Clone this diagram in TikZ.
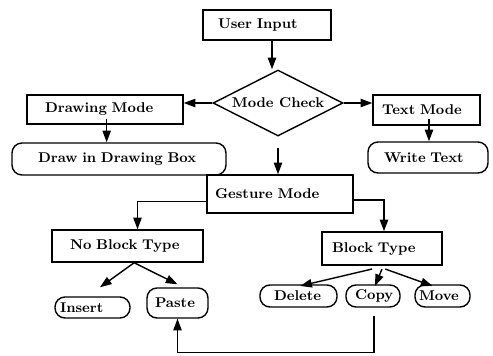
\documentclass[tikz,border=0pt]{standalone}
\usetikzlibrary{shapes.geometric,arrows.meta}
\tikzset{
    box/.style={draw, line width=0.85pt, inner sep=0pt, font=\fontsize{8.5}{10}\selectfont\bfseries},
    endbox/.style={box, rounded corners=6pt},
    check/.style={box, diamond, aspect=2},
    % text set flush left: padding, text width
    lpad/.style 2 args={align=left, inner xsep=#1, text width=#2},
    arr/.style={draw, line width=0.85pt, -{Triangle[length=7pt,width=5pt]}}
}
\begin{document}
\begin{tikzpicture}[x=0.6pt,y=-0.6pt]
        \useasboundingbox (0,0) rectangle (493,355);
        % Top: input and the mode check
        \node[box, lpad={9pt}{58.8pt}, minimum height=18pt] (input) at (267,25) {User Input};
        \node[check, minimum width=78pt, minimum height=39.6pt] (check) at (278,103) {Mode Check};
        \node[box, lpad={10.8pt}{72pt}, minimum height=17.4pt] (drawmode) at (105,109.5) {Drawing Mode};
        \node[endbox, lpad={15.6pt}{97.2pt}, minimum height=19.2pt] (drawbox) at (119,159) {Draw in Drawing Box};
        \node[box, lpad={5.4pt}{53.4pt}, minimum height=18pt] (textmode) at (426.5,110) {Text Mode};
        \node[endbox, lpad={9.6pt}{52.8pt}, minimum height=18.6pt] (writetext) at (428,157.5) {Write Text};
        % Gesture branch
        \node[box, lpad={4.8pt}{78pt}, minimum height=22.8pt] (gesture) at (280,194) {Gesture Mode};
        \node[box, lpad={10.8pt}{69pt}, minimum height=19.2pt] (noblock) at (127.5,246) {No Block Type};
        \node[box, lpad={6pt}{60pt}, minimum height=19.8pt] (block) at (382,248.5) {Block Type};
        \node[endbox, lpad={3pt}{39pt}, minimum height=12.6pt] (insert) at (92.5,307.5) {Insert};
        \node[endbox, lpad={4.8pt}{27pt}, minimum height=18pt] (paste) at (177.5,303) {Paste};
        \node[endbox, lpad={8.4pt}{29.4pt}, minimum height=13.2pt] (delete) at (298.5,296) {Delete};
        \node[endbox, lpad={5.4pt}{21.6pt}, minimum height=13.2pt] (copy) at (373,296) {Copy};
        \node[endbox, lpad={2.4pt}{28.2pt}, minimum height=13.2pt] (move) at (442.5,296) {Move};

        % Connectors
        \draw[arr] ([xshift=-3.6pt]check.north |- input.south) -- ([xshift=-3.6pt]check.north);
        \draw[arr] (check.west) -- (check.west -| drawmode.east);
        \draw[arr] (check.east) -- (check.east -| textmode.west);
        \draw[arr] ([xshift=1pt,yshift=-5.5pt]drawmode.center) -- ([xshift=1pt]drawmode.center |- drawbox.north);
        \draw[arr] ([xshift=1.5pt,yshift=-5.5pt]textmode.center) -- ([xshift=1.5pt]textmode.center |- writetext.north);
        \draw[arr, shorten <=7pt] (check.south) -- (check.south |- gesture.north);
        \draw[arr] ([yshift=-4.5pt]gesture.west) -| ([xshift=6pt]noblock.north);
        \draw[arr] ([yshift=-3.5pt]gesture.east) -| ([xshift=1.2pt]block.north);
        \draw[arr] ([xshift=4pt]noblock.south) -- ([xshift=4.5pt,yshift=5.4pt]insert.north);
        \draw[arr] ([xshift=4pt]noblock.south) -- ([yshift=1.8pt]paste.north);
        \draw[arr] ([xshift=-6pt,yshift=-2pt]block.south) -- ([xshift=1pt,yshift=-1pt]delete.north);
        \draw[arr] ([yshift=-2pt]block.south) -- ([xshift=1.2pt,yshift=-1pt]copy.north);
        \draw[arr] ([xshift=2pt,yshift=-2pt]block.south) -- ([xshift=-6pt,yshift=-1pt]move.north);
        \draw[arr, shorten <=4.8pt] ([xshift=0.5pt]copy.south) -- ++(0,45) -| (paste.south);
\end{tikzpicture}
\end{document}
